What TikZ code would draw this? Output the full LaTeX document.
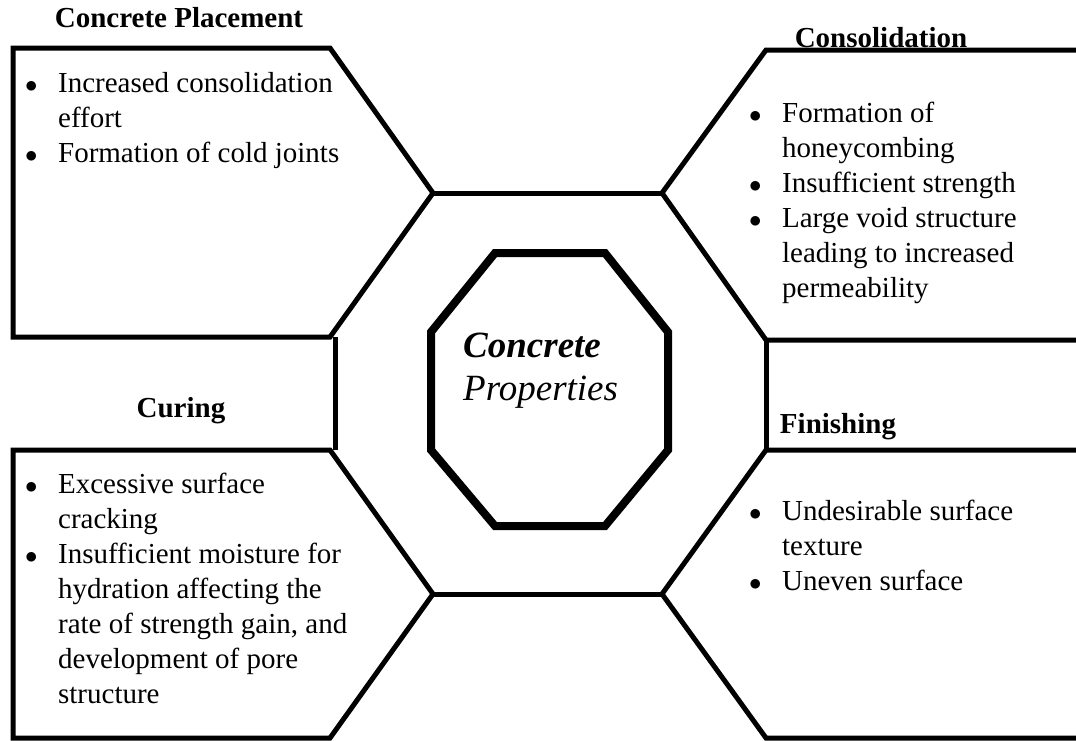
\documentclass[tikz,border=0pt]{standalone}
\usepackage{fontspec}
\setmainfont{Liberation Serif}
\usepackage{tikz}
\usetikzlibrary{calc, positioning}

\newcommand{\listdot}{$\bullet$}

\begin{document}
\begin{tikzpicture}[
			x=1pt, y=-1pt,
			frame/.style={line width=5pt, line join=miter},
			core/.style={line width=8pt, line join=miter},
			heading/.style={
					inner sep=0pt,
					anchor=base,
					font=\fontsize{29}{35}\selectfont\bfseries
				},
			bullets/.style={
					inner sep=0pt,
					anchor=base west,
					font=\fontsize{29}{35}\selectfont
				}
		]
		\useasboundingbox (0,0) rectangle (1076,740);

		% corners of the ring round the middle
		\coordinate (r1) at (433,193);
		\coordinate (r2) at (662,193);
		\coordinate (r3) at (766,340);
		\coordinate (r4) at (766,450);
		\coordinate (r5) at (662,594);
		\coordinate (r6) at (433,594);
		\coordinate (r7) at (335,450);
		\coordinate (r8) at (335,337);

		% the four boxes
		\draw[frame] (13,48) -- (330,48) -- (r1) -- (330,337) -- (13,337) -- cycle;
		\draw[frame] (1076,50) -- (766,50) -- (r2) -- (r3) -- (1076,340);
		\draw[frame] (13,450) -- (330,450) -- (r6) -- (330,738) -- (13,738) -- cycle;
		\draw[frame] (1076,450) -- (r4) -- (r5) -- (766,738) -- (1076,738);

		% the pieces that close the ring
		\draw[frame] (r1) -- (r2);
		\draw[frame] (r6) -- (r5);
		\draw[frame] (r8) -- (r7);
		\draw[frame] (r3) -- (r4);

		% octagon in the middle
		\draw[core] (495,253) -- (605,253) -- (668,332) -- (668,450)
		-- (605,526) -- (495,526) -- (431,450) -- (431,332) -- cycle;

		\node[anchor=base west, inner sep=0pt, font=\fontsize{37}{43}\selectfont] (props) at (463,357)
		{\begin{tabular}[t]{@{}l@{}}\textbf{\textit{Concrete}}\\ \textit{Properties}\end{tabular}};

		% headings
		\node[heading] (placeT) at (179,27) {Concrete Placement};
		\node[heading] (consT) at (881,47) {Consolidation};
		\node[heading] (cureT) at (181,417) {Curing};
		\node[heading] (finT) at (838,433) {Finishing};

		% lists
		\node[bullets] (placeL) at (25,92) {\begin{tabular}[t]{@{}l@{\hspace{20.5pt}}l@{}}
				\listdot & Increased consolidation\\
				         & effort\\
				\listdot & Formation of cold joints
			\end{tabular}};

		\node[bullets] (consL) at (749,122) {\begin{tabular}[t]{@{}l@{\hspace{20.5pt}}l@{}}
				\listdot & Formation of\\
				         & honeycombing\\
				\listdot & Insufficient strength\\
				\listdot & Large void structure\\
				         & leading to increased\\
				         & permeability
			\end{tabular}};

		\node[bullets] (cureL) at (25,493) {\begin{tabular}[t]{@{}l@{\hspace{20.5pt}}l@{}}
				\listdot & Excessive surface\\
				         & cracking\\
				\listdot & Insufficient moisture for\\
				         & hydration affecting the\\
				         & rate of strength gain, and\\
				         & development of pore\\
				         & structure
			\end{tabular}};

		\node[bullets] (finL) at (749,520) {\begin{tabular}[t]{@{}l@{\hspace{20.5pt}}l@{}}
				\listdot & Undesirable surface\\
				         & texture\\
				\listdot & Uneven surface
			\end{tabular}};
	\end{tikzpicture}
\end{document}
